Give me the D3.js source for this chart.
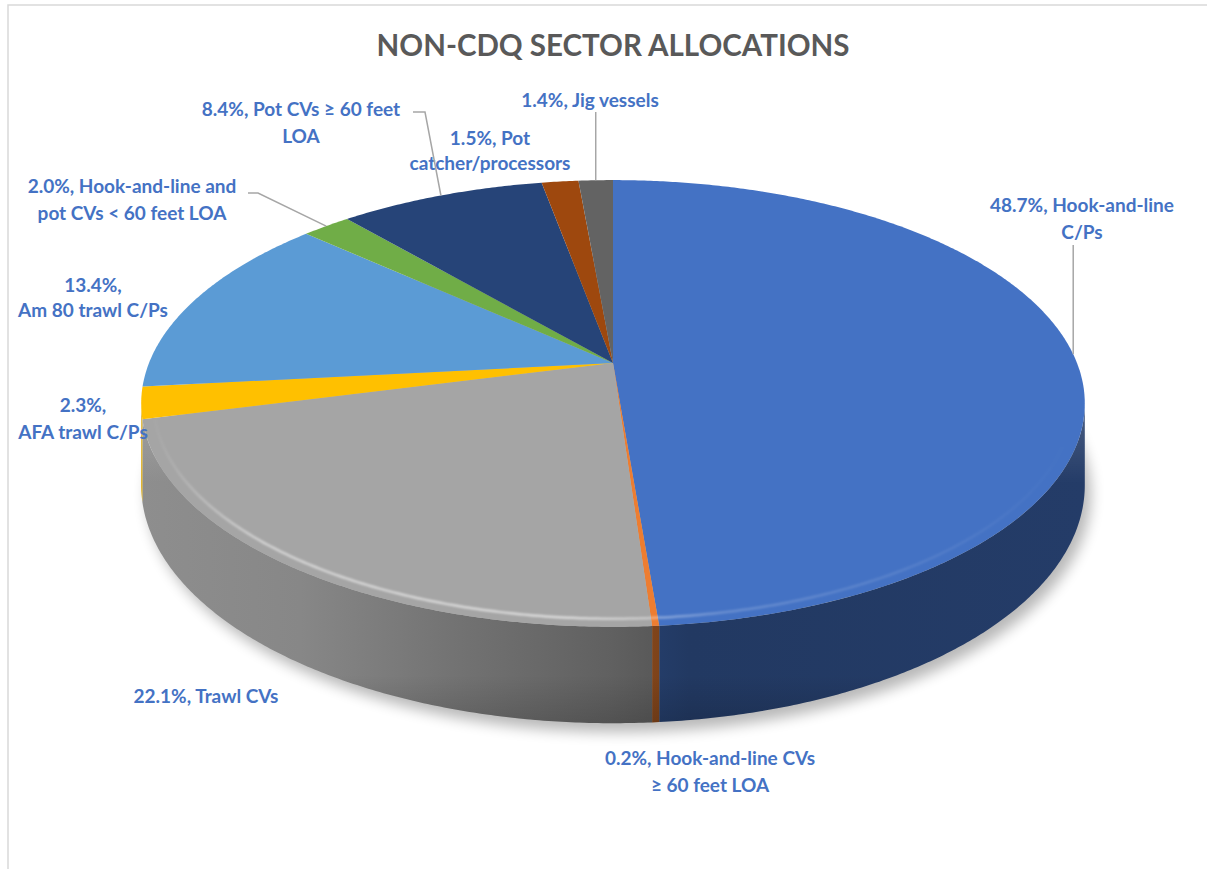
<!DOCTYPE html>
<html>
<head>
<meta charset="utf-8">
<script src="https://cdn.jsdelivr.net/npm/d3@7"></script>
<style>
body{margin:0;background:#fff;}
text{font-family:Lato,"Open Sans",sans-serif;font-weight:700;}
</style>
</head>
<body>
<svg id="chart" width="1207" height="869"></svg>
<script>
/* dados do grafico */
var title = "NON-CDQ SECTOR ALLOCATIONS";
var sectors = ["Hook-and-line C/Ps", "Hook-and-line CVs \u2265 60 feet LOA", "Trawl CVs", "AFA trawl C/Ps",
               "Am 80 trawl C/Ps", "Hook-and-line and pot CVs < 60 feet LOA", "Pot CVs \u2265 60 feet LOA",
               "Pot catcher/processors", "Jig vessels"];
var shares = [48.7, 0.2, 22.1, 2.3, 13.4, 2.0, 8.4, 1.5, 1.4];
var colors = ["#4472c4", "#ed7d31", "#a5a5a5", "#ffc000", "#5b9bd5", "#70ad47", "#264478", "#9e480e", "#636363"];

/* layout dos rotulos: centro x, y da 1a linha, palavras na 1a linha, inicio da linha guia */
var labelLayout = [
    {x: 1082, y: 205, words: 2, lead: "v", ly: 245},
    {x: 710, y: 758, words: 3},
    {x: 206, y: 696, words: 99},
    {x: 83, y: 405, words: 1},
    {x: 93, y: 285, words: 1, lh: 25},
    {x: 132, y: 186, words: 3, lead: [[248, 193], [258, 193]]},
    {x: 301, y: 109, words: 6, lead: [[413, 112], [425, 112]]},
    {x: 490, y: 138, words: 2, lh: 25},
    {x: 590, y: 100, words: 99, lead: "v", ly: 112}
];

var svg = d3.select("#chart");
var CX = 613, CY = 363, RX = 464, RY = 216, K = 0.181, DEPTH = 79;

// projecao perspectiva de um ponto do disco
function proj(a, r, depth){
    var u = r * Math.sin(a), v = -r * Math.cos(a), w = 1 - K * v;
    return [CX + RX * u / w, CY + (RY * v + DEPTH * depth) / w];
}
function arcPts(a0, a1, r, depth){
    var n = Math.max(2, Math.ceil((a1 - a0) / 0.008));
    return d3.range(n + 1).map(function(i){ return proj(a0 + (a1 - a0) * i / n, r, depth); });
}
var line = d3.line();

var arcs = d3.pie().sort(null).value(function(d){ return d; })(shares);

var defs = svg.append("defs");
defs.append("filter").attr("id", "shadow").attr("x", "-20%").attr("y", "-20%").attr("width", "140%").attr("height", "140%")
    .append("feGaussianBlur").attr("stdDeviation", 7);
defs.append("filter").attr("id", "soft").append("feGaussianBlur").attr("stdDeviation", 1.3);

// gradiente das paredes laterais (luz vindo da esquerda)
var shade = [[0, 0.86], [0.17, 0.82], [0.33, 0.7], [0.5, 0.58], [0.58, 0.5], [1, 0.53]];
colors.forEach(function(c, i){
    var g = defs.append("linearGradient").attr("id", "wall" + i).attr("gradientUnits", "userSpaceOnUse")
        .attr("x1", CX - RX * 1.02).attr("x2", CX + RX * 1.02).attr("y1", 0).attr("y2", 0);
    var base = d3.rgb(c);
    shade.forEach(function(s){
        g.append("stop").attr("offset", s[0])
         .attr("stop-color", d3.rgb(base.r * s[1], base.g * s[1], base.b * s[1]).formatHex());
    });
});
var rimG = defs.append("linearGradient").attr("id", "rim").attr("x1", 0).attr("x2", 0).attr("y1", 0).attr("y2", 1);
rimG.append("stop").attr("offset", 0).attr("stop-color", "#fff").attr("stop-opacity", 0.18);
rimG.append("stop").attr("offset", 0.25).attr("stop-color", "#fff").attr("stop-opacity", 0);
rimG.append("stop").attr("offset", 0.85).attr("stop-color", "#000").attr("stop-opacity", 0);
rimG.append("stop").attr("offset", 1).attr("stop-color", "#000").attr("stop-opacity", 0.15);

// brilho do chanfro, some nas pontas
var hl = defs.append("linearGradient").attr("id", "hl").attr("gradientUnits", "userSpaceOnUse")
    .attr("x1", CX - RX).attr("x2", CX + RX).attr("y1", 0).attr("y2", 0);
[[0, 0], [0.12, 0.5], [0.45, 0.6], [0.62, 0.2], [0.85, 0.08], [1, 0]].forEach(function(s){
    hl.append("stop").attr("offset", s[0]).attr("stop-color", "#fff").attr("stop-opacity", s[1]);
});

// moldura
svg.append("path").attr("d", "M8,869V5H1207").attr("fill", "none").attr("stroke", "#d9d9d9").attr("stroke-width", 1.5);

// titulo
svg.append("text").attr("x", 613).attr("y", 56).attr("text-anchor", "middle")
    .attr("font-size", 29.5).attr("fill", "#595959").text(title);

// sombra
svg.append("path")
    .attr("d", line(arcPts(0, 2 * Math.PI, 1, 1)) + "Z")
    .attr("transform", "translate(6,9)")
    .attr("fill", "#000").attr("opacity", 0.28).attr("filter", "url(#shadow)");

// paredes visiveis
var aL = Math.acos(-K), aR = 2 * Math.PI - aL;
var walls = svg.append("g");
arcs.forEach(function(d, i){
    var lo = Math.max(d.startAngle, aL), hi = Math.min(d.endAngle, aR);
    if (hi <= lo) return;
    var pts = arcPts(lo, hi, 1, 0).concat(arcPts(lo, hi, 1, 1).reverse());
    walls.append("path").attr("d", line(pts) + "Z").attr("fill", "url(#wall" + i + ")");
});
walls.append("path")
    .attr("d", line(arcPts(aL, aR, 1, 0).concat(arcPts(aL, aR, 1, 1).reverse())) + "Z")
    .attr("fill", "url(#rim)");

// faces de cima
svg.append("g").selectAll("path").data(arcs).enter().append("path")
    .attr("d", function(d){ return line([proj(0, 0, 0)].concat(arcPts(d.startAngle, d.endAngle, 1, 0))) + "Z"; })
    .attr("fill", function(d, i){ return colors[i]; });

svg.append("path").attr("d", line(arcPts(aL + 0.2, aR - 0.05, 0.975, 0)))
    .attr("fill", "none").attr("stroke", "url(#hl)").attr("stroke-width", 2.5)
    .attr("filter", "url(#soft)");

// rotulos
var fmt = d3.format(".1f");
var labels = svg.append("g").attr("fill", "#4472c4").attr("font-size", 19).attr("text-anchor", "middle");
arcs.forEach(function(d, i){
    var L = labelLayout[i];
    var words = (fmt(shares[i]) + "%, " + sectors[i]).split(" ");
    var rows = [words.slice(0, L.words).join(" ")];
    if (words.length > L.words) rows.push(words.slice(L.words).join(" "));
    var t = labels.append("text").attr("x", L.x).attr("y", L.y + 7);
    rows.forEach(function(r, j){
        t.append("tspan").attr("x", L.x).attr("dy", j ? (L.lh || 27) : 0).text(r);
    });
    if (L.lead){
        var mid = (d.startAngle + d.endAngle) / 2, p = proj(mid, 1, 0);
        var pts = L.lead === "v" ? [[p[0], L.ly], p] : L.lead.concat([p]);
        svg.append("path").attr("d", line(pts)).attr("fill", "none")
           .attr("stroke", "#a6a6a6").attr("stroke-width", 1.5);
    }
});
</script>
</body>
</html>
